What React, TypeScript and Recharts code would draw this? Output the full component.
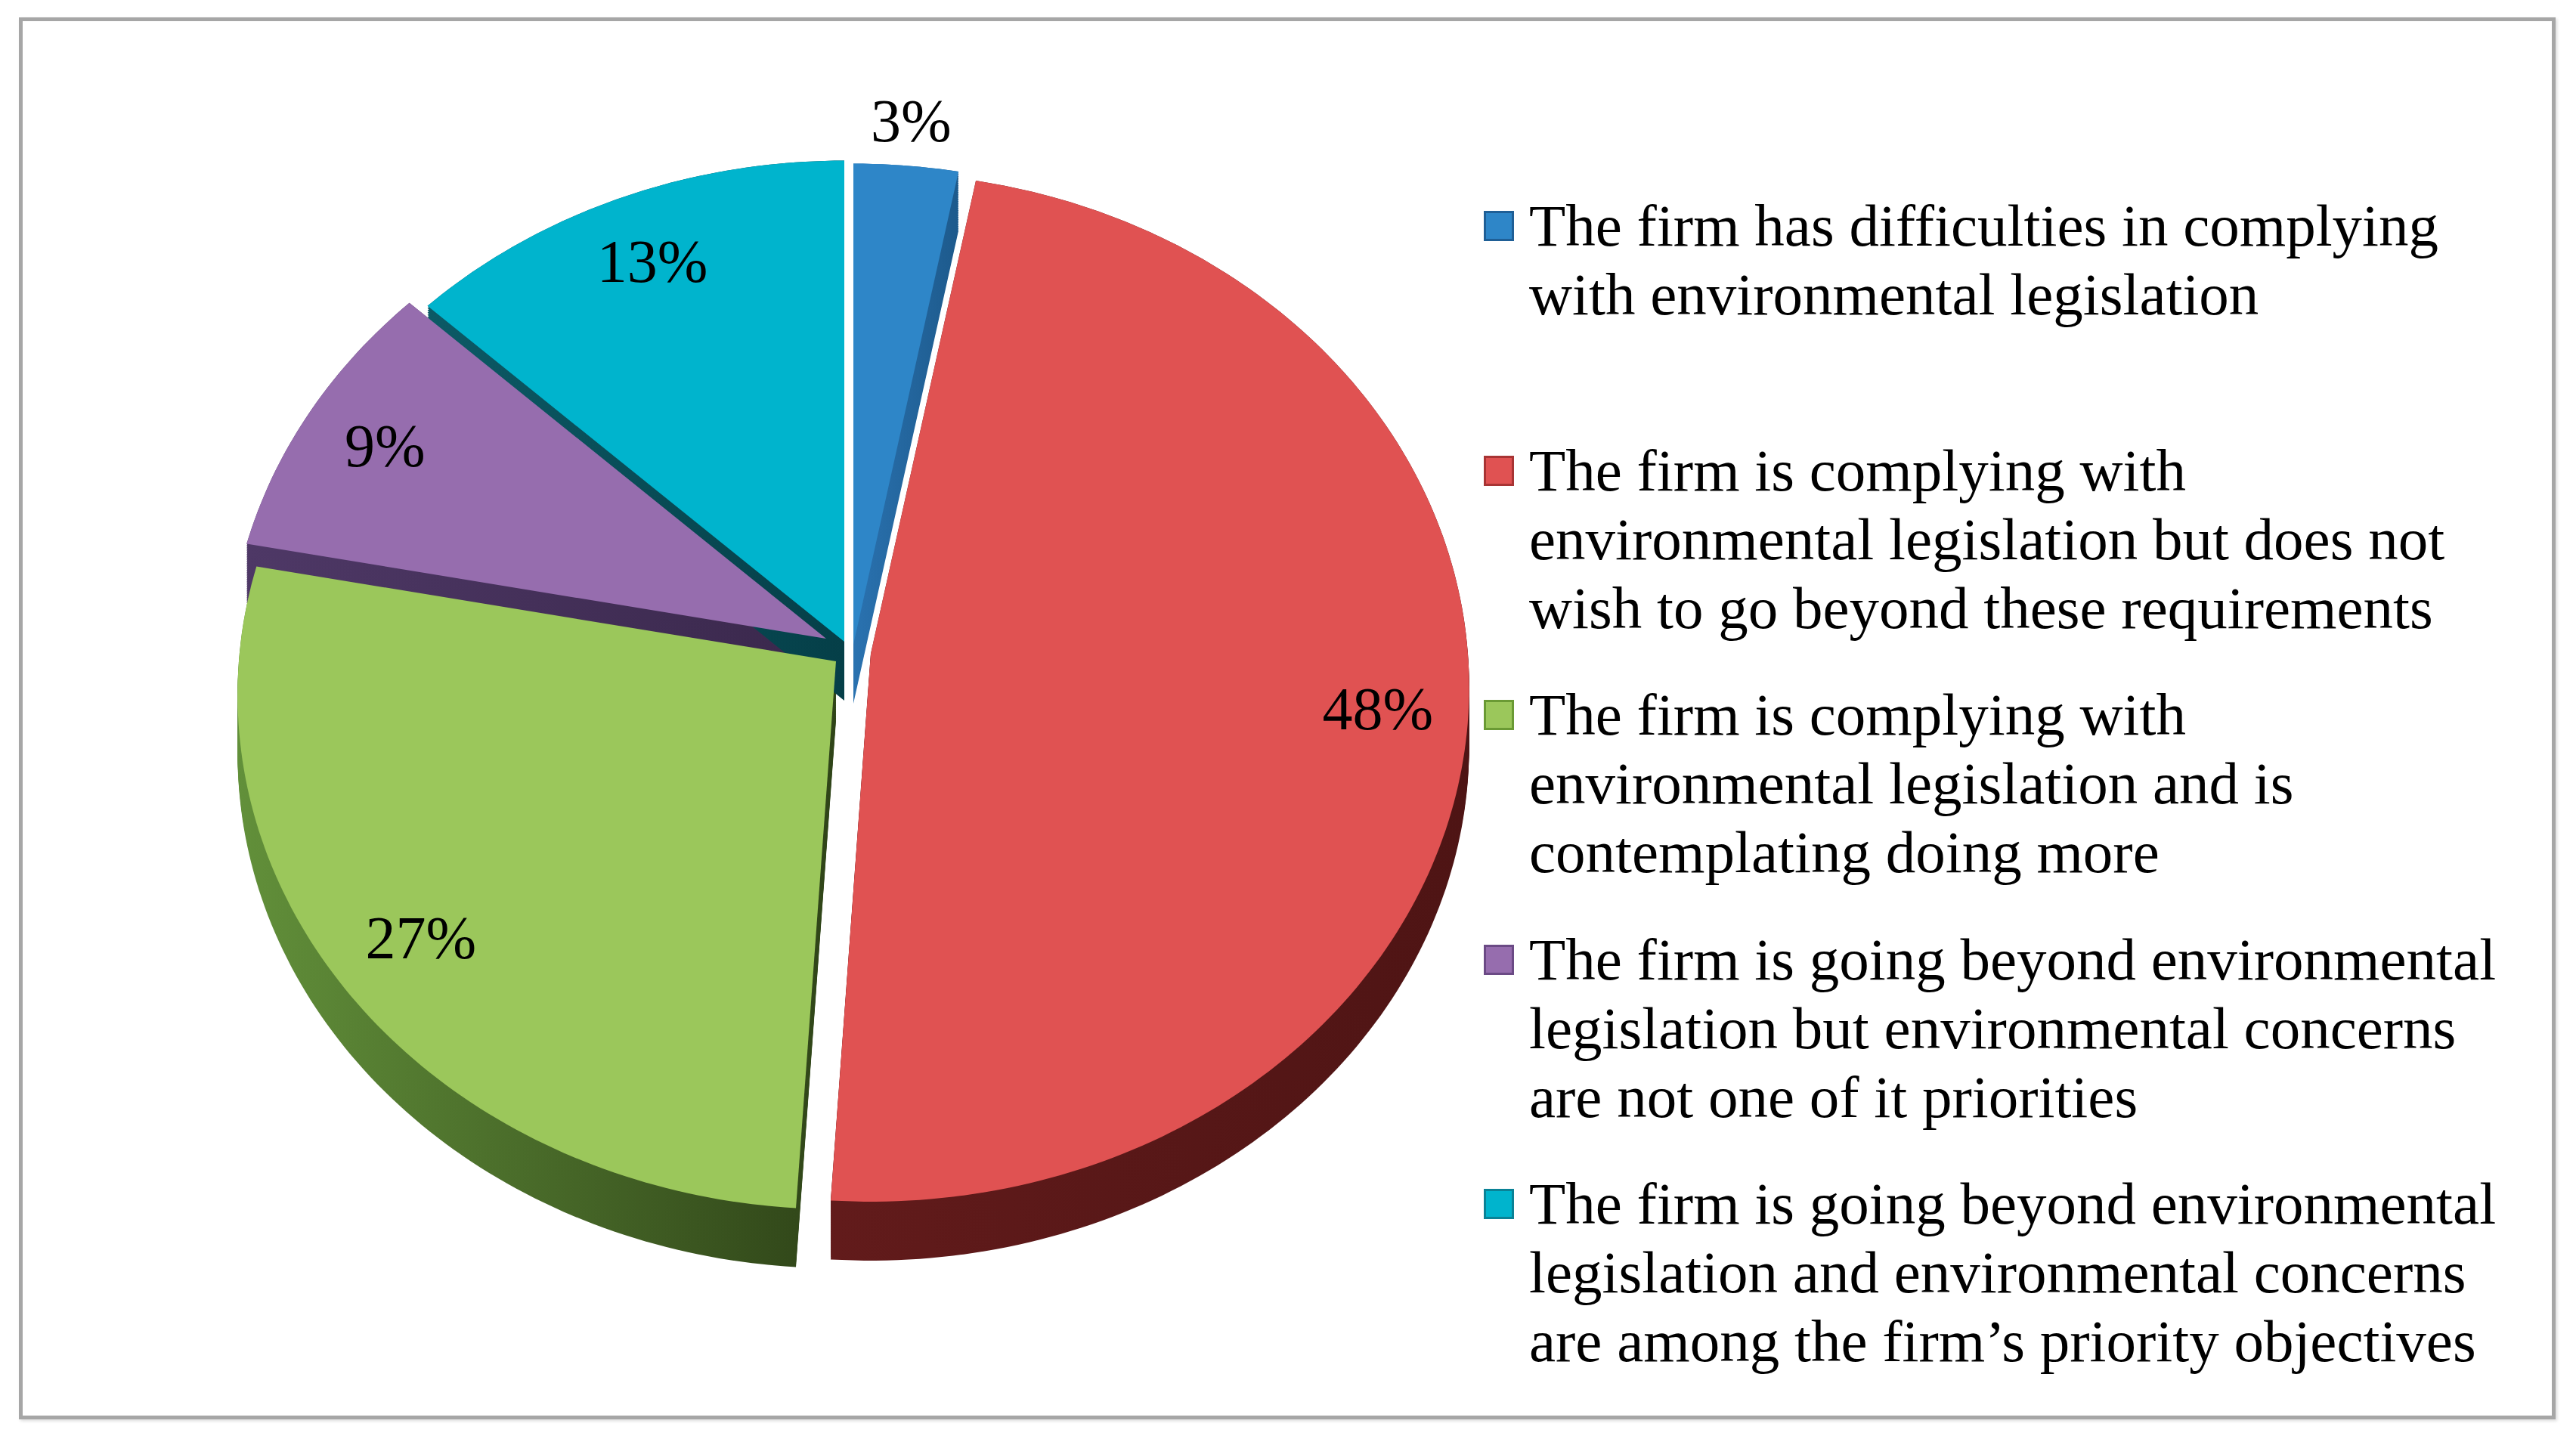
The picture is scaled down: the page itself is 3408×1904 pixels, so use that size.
import React from "react";
import { PieChart, Pie, Legend } from "recharts";

const categories = [
  "The firm has difficulties in complying with environmental legislation",
  "The firm is complying with environmental legislation but does not wish to go beyond these requirements",
  "The firm is complying with environmental legislation and is contemplating doing more",
  "The firm is going beyond environmental legislation but environmental concerns are not one of it priorities",
  "The firm is going beyond environmental legislation and environmental concerns are among the firm\u2019s priority objectives",
];
const shares = [3, 48, 27, 9, 13];

const topColors = ["#2E86C8", "#E05252", "#9BC75B", "#966DAE", "#00B4CD"];
const sideLight = ["#2a72b0", "#621b1b", "#62903a", "#4e3866", "#0c5a66"];
const sideDark = ["#1d5a8c", "#4e1414", "#2f4418", "#3a284c", "#053f48"];
const markerEdge = ["#1f5f96", "#a83434", "#6a9a34", "#6b4a85", "#0a8296"];

const data = categories.map((name, i) => ({ name, value: shares[i] }));

// look of the tilted pie: perspective strength, vertical squash, extrusion
const CX = 1110;
const CY = 850;
const RX = 790;
const ASPECT = 0.858;
const RHO = 0.065;
const DEPTH = 78;
const explode = [
  [14, -2],
  [37, 10],
  [-9, 20],
  [-22, -10],
  [2, -6],
];
const FONT = '"Liberation Serif", "Times New Roman", serif';
const RAD = Math.PI / 180;

function proj(cx: number, cy: number, a: number, b: number, angle: number, f = 1) {
  const s = Math.sin(angle * RAD);
  const c = Math.cos(angle * RAD);
  const d = 1 + RHO * f * s;
  return [cx + (a * f * c) / d, cy - (b * f * s) / d];
}

function slicePath(cx: number, cy: number, a: number, b: number, start: number, end: number) {
  const n = Math.max(2, Math.ceil(Math.abs(start - end)));
  let d = `M${cx.toFixed(1)},${cy.toFixed(1)}`;
  for (let k = 0; k <= n; k++) {
    const [x, y] = proj(cx, cy, a, b, start + ((end - start) * k) / n);
    d += ` L${x.toFixed(1)},${y.toFixed(1)}`;
  }
  return d + " Z";
}

function sliceIndex(props: any) {
  const n = props.payload?.name ?? props.name;
  const i = categories.indexOf(n);
  return i >= 0 ? i : props.index ?? 0;
}

const TopSlice = (props: any) => {
  const { cx, cy, outerRadius, startAngle, endAngle } = props;
  const i = sliceIndex(props);
  const [ox, oy] = explode[i];
  return (
    <path d={slicePath(cx + ox, cy + oy, outerRadius, outerRadius * ASPECT, startAngle, endAngle)} fill={topColors[i]} />
  );
};

const SideSlice = (props: any) => {
  const { cx, cy, outerRadius, startAngle, endAngle } = props;
  const i = sliceIndex(props);
  const [ox, oy] = explode[i];
  const steps: number[] = [];
  for (let t = DEPTH; t >= 0; t -= 3) steps.push(t);
  return (
    <g>
      <defs>
        <linearGradient id={`side${i}`} x1="0" y1="0" x2="1" y2="0">
          <stop offset="0" stopColor={sideLight[i]} />
          <stop offset="1" stopColor={sideDark[i]} />
        </linearGradient>
      </defs>
      {steps.map((t) => (
        <path
          key={t}
          d={slicePath(cx + ox, cy + oy + t, outerRadius, outerRadius * ASPECT, startAngle, endAngle)}
          fill={`url(#side${i})`}
        />
      ))}
    </g>
  );
};

const renderLabel = (props: any) => {
  const { cx, cy, midAngle, outerRadius, value } = props;
  const i = sliceIndex(props);
  const [ox, oy] = explode[i];
  const f = value < 5 ? 1.1 : 0.85;
  const [x, y] = proj(cx + ox, cy + oy, outerRadius, outerRadius * ASPECT, midAngle, f);
  return (
    <text x={x} y={y} textAnchor="middle" dominantBaseline="central" fontFamily={FONT} fontSize={80} fill="#000">
      {`${value}%`}
    </text>
  );
};

const renderLegend = (props: any) => {
  const seen = new Set<string>();
  const items = (props.payload || [])
    .filter((p: any) => {
      if (seen.has(p.value)) return false;
      seen.add(p.value);
      return true;
    })
    .sort((a: any, b: any) => categories.indexOf(a.value) - categories.indexOf(b.value));
  return (
    <div>
      {items.map((p: any) => {
        const i = categories.indexOf(p.value);
        return (
          <div key={p.value} style={{ display: "flex", alignItems: "flex-start", height: 323.5 }}>
            <span
              style={{
                flex: "none",
                width: 40,
                height: 40,
                marginTop: 26,
                marginRight: 20,
                boxSizing: "border-box",
                background: topColors[i],
                border: `3px solid ${markerEdge[i]}`,
              }}
            />
            <span style={{ fontFamily: FONT, fontSize: 79, lineHeight: "91px", color: "#000", width: 1300 }}>
              {p.value}
            </span>
          </div>
        );
      })}
    </div>
  );
};

export default function App() {
  return (
    <div style={{ position: "relative", width: 3408, height: 1904, background: "#fff" }}>
      <style>{"body{margin:0}"}</style>
      <div
        style={{
          position: "absolute",
          left: 25,
          top: 23,
          width: 3356,
          height: 1855,
          boxSizing: "border-box",
          border: "5px solid #a6a6a6",
          boxShadow: "2px 2px 4px rgba(0,0,0,0.15)",
        }}
      />
      <div style={{ position: "absolute", left: 0, top: 0 }}>
        <PieChart width={3408} height={1904}>
          <Pie
            data={data}
            dataKey="value"
            nameKey="name"
            cx={CX}
            cy={CY}
            outerRadius={RX}
            startAngle={90}
            endAngle={-270}
            legendType="none"
            shape={SideSlice}
            activeShape={SideSlice}
            inactiveShape={SideSlice}
            stroke="none"
            isAnimationActive={false}
          />
          <Pie
            data={data}
            dataKey="value"
            nameKey="name"
            cx={CX}
            cy={CY}
            outerRadius={RX}
            startAngle={90}
            endAngle={-270}
            shape={TopSlice}
            activeShape={TopSlice}
            inactiveShape={TopSlice}
            stroke="none"
            label={renderLabel}
            labelLine={false}
            isAnimationActive={false}
          />
          <Legend
            layout="vertical"
            verticalAlign="top"
            align="right"
            content={renderLegend}
            wrapperStyle={{ left: 1963, top: 253, width: 1420, right: "auto" }}
          />
        </PieChart>
      </div>
    </div>
  );
}
